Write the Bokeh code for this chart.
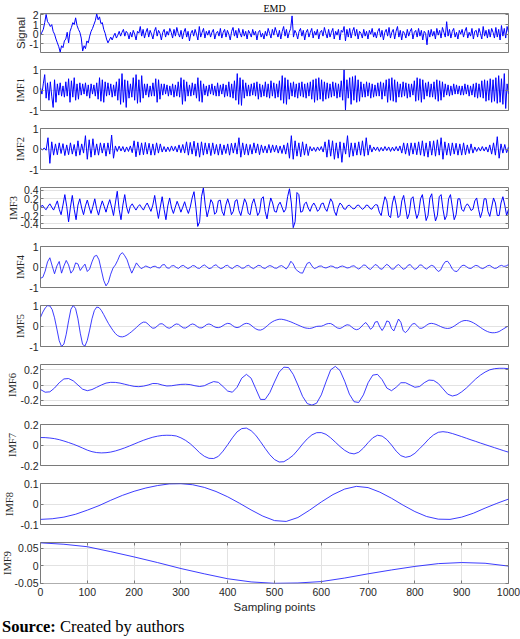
import numpy as np
from math import pi
from bokeh.plotting import figure
from bokeh.layouts import column
from bokeh.models import Range1d, FixedTicker, LinearAxis, Label, Div
from bokeh.embed import file_html
from bokeh.resources import INLINE

# ---------------- data ----------------
signal = [
    -0.1, 0.2, 0.5, 1.2, 2.05, 1.3, 1.1, 0.8, 1.0, 0.3,
    0.0, -0.5, -0.9, -1.3, -1.85, -1.2, -1.4, -0.7, -0.5, 0.2,
    -0.9, 0.3, 0.7, 1.2, 1.0, 1.7, 0.9, 0.5, 0.2, -0.4,
    -1.75, -1.2, -1.5, -0.7, -0.9, -0.2, 0.3, 0.6, 1.0, 1.4,
    2.1, 1.5, 1.8, 1.1, 1.2, 0.5, 0.1, -0.5, -0.9, -0.6,
    -0.3, -0.6, -0.2, 0.1, -0.4, -0.1, 0.3, -0.2, 0.2, 0.5,
    -0.2, 0.3, 0.1, -0.5, 0.2, -0.3, 0.4, 0.0, -0.6, 0.3,
    0.1, 0.8, -0.2, 0.5, -0.4, 0.2, 0.6, -0.3, 0.4, 0.0,
    -0.5, 0.3, 0.7, -0.2, 0.4, 0.1, -0.6, 0.2, 0.5, -0.3,
    0.3, -0.1, 0.6, 0.2, -0.4, 0.5, -0.2, 0.7, 0.1, -0.3,
    0.4, -0.5, 0.2, 0.6, -0.3, 0.3, -0.7, 0.1, 0.4, -0.2,
    0.5, 0.0, -0.6, 0.8, -0.3, 0.2, 0.6, -0.4, 0.3, -0.1,
    0.4, -0.3, 0.2, 0.5, -0.5, 0.1, 0.3, -0.2, 0.6, -0.4,
    0.2, 0.5, -0.3, 0.4, 0.0, -0.6, 0.3, 0.7, -0.2, 0.4,
    -0.4, 0.6, 0.1, -0.3, 0.5, -0.2, 0.3, -0.5, 0.4, 0.1,
    -0.3, 0.5, -0.1, 0.3, -0.6, 0.2, 0.4, -0.3, 0.1, -0.5,
    0.3, -0.2, 0.6, 0.1, -0.4, 0.5, -0.1, 0.7, 0.2, -0.3,
    0.4, -0.5, 0.3, 0.8, -0.2, 0.5, -0.4, 0.2, 0.6, 1.9,
    -0.3, 0.4, 0.1, -0.5, 0.3, 0.6, -0.2, 0.4, -0.6, 0.2,
    0.5, -0.3, 0.2, 0.6, -0.4, 0.3, -0.1, 0.5, -0.5, 0.2,
    0.4, -0.2, 0.7, 0.1, -0.4, 0.5, -0.3, 0.2, 0.6, -0.5,
    0.3, -0.1, 0.5, -0.6, 0.4, 0.2, 0.8, -0.7, 0.5, -0.3,
    0.6, -0.4, 0.3, 0.7, -0.2, 0.5, -0.5, 0.3, 0.1, -0.4,
    0.5, -0.2, 0.3, -0.5, 0.4, 0.0, 0.6, -0.3, 0.2, -0.4,
    0.3, 0.6, -0.3, 0.4, -0.6, 0.2, 0.5, -0.2, 0.7, -0.4,
    0.2, 0.5, -0.5, 0.3, 0.8, -0.3, 0.4, -0.6, 0.3, 0.1,
    -0.4, 0.5, -0.2, 0.3, 0.6, -0.5, 0.2, 0.4, -0.3, 0.6,
    -0.2, 0.4, -0.6, 0.3, 0.1, -1.1, 0.4, -0.3, 0.5, -0.2,
    0.3, -0.5, 0.6, -0.1, 0.4, -0.4, 0.7, 0.2, -0.3, 1.3,
    -0.2, 0.5, -0.4, 0.3, 0.6, -0.3, 0.2, -0.5, 0.4, 0.0,
    0.5, -0.3, 0.3, 0.7, -0.4, 0.2, -0.2, 0.6, -0.5, 0.3,
    0.4, -0.3, 0.6, 0.1, -0.5, 0.8, -0.2, 0.4, -0.4, 0.5,
    -0.3, 0.6, 0.2, -0.4, 0.7, -0.3, 0.5, -0.6, 0.9, -0.2,
    0.6, -0.4, 0.8, 0.2,
]

imf1 = [
    0.1, -0.2, 0.3, 0.75, -0.4, 0.35, -0.5, 0.4, -0.3, -0.85,
    0.5, -0.6, 0.3, -0.25, 0.35, -0.3, 0.2, -0.35, 0.4, -0.3,
    0.55, -0.6, 0.45, -0.35, 0.6, -0.5, 0.3, -0.45, 0.35, -0.25,
    0.3, -0.2, 0.35, -0.3, 0.25, -0.4, 0.3, -0.2, 0.25, -0.3,
    0.35, -0.45, 0.6, -0.55, 0.5, -0.6, 0.4, -0.3, 0.35, -0.25,
    0.3, -0.35, 0.25, -0.3, 0.4, -0.5, 0.55, -0.7, 0.8, -0.6,
    0.5, -0.85, 0.45, -0.4, 0.3, -0.35, 0.6, -0.5, 0.75, -0.65,
    0.5, -0.6, 0.7, -0.4, 0.3, -0.25, 0.3, -0.35, 0.2, -0.3,
    0.35, -0.3, 0.55, -0.6, 0.5, -0.45, 0.3, -0.25, 0.3, -0.2,
    0.25, -0.3, 0.2, -0.25, 0.3, -0.35, 0.25, -0.3, 0.4, -0.35,
    0.6, -0.7, 0.5, -0.55, 0.4, -0.3, 0.25, -0.3, 0.35, -0.25,
    0.3, -0.4, 0.6, -0.55, 0.45, -0.6, 0.3, -0.25, 0.2, -0.3,
    0.25, -0.2, 0.3, -0.25, 0.2, -0.3, 0.35, -0.3, 0.25, -0.2,
    0.3, -0.35, 0.25, -0.3, 0.4, -0.35, 0.3, -0.4, 0.45, -0.5,
    0.8, -0.7, 0.6, -0.75, 0.5, -0.4, 0.35, -0.3, 0.25, -0.3,
    0.3, -0.25, 0.35, -0.3, 0.4, -0.45, 0.3, -0.35, 0.25, -0.3,
    0.4, -0.35, 0.3, -0.4, 0.45, -0.3, 0.35, -0.4, 0.3, -0.35,
    0.45, -0.5, 0.7, -0.65, 0.6, -0.7, 0.5, -0.45, 0.35, -0.3,
    0.4, -0.35, 0.3, -0.4, 0.35, -0.3, 0.4, -0.35, 0.3, -0.4,
    0.35, -0.3, 0.4, -0.45, 0.5, -0.6, 0.55, -0.5, 0.6, -0.45,
    0.5, -0.55, 0.4, -0.45, 0.35, -0.4, 0.3, -0.35, 0.4, -0.3,
    0.35, -0.4, 0.3, -0.35, 0.45, -0.5, 0.98, -0.98, 0.5, -0.4,
    0.6, -0.7, 0.65, -0.5, 0.7, -0.6, 0.5, -0.55, 0.4, -0.35,
    0.3, -0.35, 0.4, -0.3, 0.35, -0.4, 0.3, -0.35, 0.25, -0.3,
    0.35, -0.3, 0.4, -0.45, 0.35, -0.3, 0.5, -0.6, 0.55, -0.5,
    0.6, -0.55, 0.5, -0.6, 0.4, -0.35, 0.3, -0.35, 0.4, -0.3,
    0.35, -0.4, 0.3, -0.35, 0.3, -0.25, 0.45, -0.55, 0.6, -0.5,
    0.55, -0.6, 0.5, -0.45, 0.35, -0.3, 0.4, -0.35, 0.3, -0.35,
    0.4, -0.45, 0.5, -0.55, 0.45, -0.5, 0.4, -0.35, 0.3, -0.25,
    0.25, -0.3, 0.2, -0.25, 0.3, -0.2, 0.25, -0.2, 0.2, -0.25,
    0.2, -0.25, 0.3, -0.2, 0.25, -0.3, 0.2, -0.25, 0.3, -0.35,
    0.35, -0.4, 0.3, -0.35, 0.45, -0.4, 0.5, -0.55, 0.45, -0.5,
    0.55, -0.6, 0.5, -0.55, 0.6, -0.65, 0.7, -0.6, 0.55, -0.7,
    0.8, -0.9, 0.3, -0.2,
]

imf2 = [
    0.03, -0.04, 0.05, -0.06, 0.55, -0.7, 0.35, -0.3, 0.25, -0.28,
    0.3, -0.22, 0.26, -0.32, 0.2, -0.28, 0.3, -0.25, 0.22, -0.35,
    0.4, -0.3, 0.25, -0.2, 0.65, -0.5, 0.45, -0.4, 0.5, -0.3,
    0.25, -0.3, 0.3, -0.2, 0.28, -0.35, 0.3, -0.25, 0.68, -0.45,
    0.15, -0.12, 0.14, -0.1, 0.12, -0.15, 0.1, -0.12, 0.15, -0.18,
    0.4, -0.38, 0.35, -0.3, 0.3, -0.28, 0.32, -0.25, 0.28, -0.3,
    0.25, -0.3, 0.3, -0.2, 0.25, -0.15, 0.12, -0.14, 0.1, -0.12,
    0.15, -0.1, 0.13, -0.15, 0.2, -0.18, 0.22, -0.2, 0.35, -0.3,
    0.32, -0.25, 0.38, -0.35, 0.3, -0.4, 0.35, -0.3, 0.3, -0.25,
    0.28, -0.32, 0.3, -0.25, 0.22, -0.3, 0.25, -0.28, 0.2, -0.22,
    0.25, -0.3, 0.28, -0.2, 0.3, -0.25, 0.55, -0.4, 0.3, -0.28,
    0.25, -0.3, 0.22, -0.25, 0.3, -0.2, 0.25, -0.28, 0.2, -0.18,
    0.15, -0.2, 0.22, -0.18, 0.2, -0.15, 0.18, -0.2, 0.15, -0.22,
    0.2, -0.25, 0.3, -0.45, 0.65, -0.5, 0.4, -0.35, 0.3, -0.38,
    0.35, -0.3, 0.25, -0.32, 0.12, -0.1, 0.08, -0.12, 0.1, -0.08,
    0.12, -0.15, 0.35, -0.4, 0.45, -0.35, 0.4, -0.5, 0.3, -0.45,
    0.35, -0.65, 0.3, -0.25, 0.65, -0.4, 0.3, -0.35, 0.3, -0.3,
    0.35, -0.3, 0.4, -0.35, 0.55, -0.3, 0.2, -0.15, 0.1, -0.08,
    0.1, -0.12, 0.08, -0.1, 0.12, -0.08, 0.1, -0.12, 0.09, -0.1,
    0.12, -0.1, 0.15, -0.2, 0.3, -0.25, 0.28, -0.32, 0.3, -0.25,
    0.3, -0.28, 0.35, -0.3, 0.4, -0.35, 0.3, -0.4, 0.38, -0.3,
    0.4, -0.35, 0.45, -0.3, 0.55, -0.5, 0.35, -0.3, 0.28, -0.32,
    0.3, -0.25, 0.28, -0.3, 0.25, -0.3, 0.3, -0.28, 0.2, -0.22,
    0.25, -0.2, 0.1, -0.12, 0.08, -0.1, 0.12, -0.1, 0.1, -0.15,
    0.2, -0.25, 0.3, -0.3, 0.6, -0.45, 0.25, -0.2, 0.22, -0.18,
    0.1,
]

imf3 = [
    0.0, 0.05, -0.02, -0.06, 0.02, 0.08, 0.0, -0.07,
    0.04, 0.15, -0.05, -0.18, 0.05, 0.3, 0.02, -0.35,
    0.0, 0.28, -0.05, -0.3, 0.05, 0.2, -0.02, -0.18,
    0.03, 0.17, 0.0, -0.15, 0.02, 0.2, -0.04, -0.19,
    0.0, 0.15, 0.02, -0.12, 0.05, 0.18, 0.0, -0.2,
    0.1, 0.38, -0.05, -0.3, 0.05, 0.3, 0.0, -0.15,
    0.02, 0.08, 0.0, -0.07, 0.01, 0.06, -0.01, -0.07,
    0.03, 0.1, 0.0, -0.1, 0.05, 0.28, -0.02, -0.27,
    0.0, 0.25, -0.05, -0.3, 0.03, 0.22, -0.02, -0.15,
    0.0, 0.14, 0.02, -0.12, 0.0, 0.13, -0.03, -0.15,
    0.0, 0.22, 0.37, 0.0, -0.46, -0.35, 0.25, 0.46, 0.05, -0.23,
    -0.05, 0.18, 0.1, -0.17, -0.12, 0.15, 0.17, -0.1, -0.2, 0.05,
    0.2, 0.05, -0.18, -0.1, 0.15, 0.18, -0.08, -0.2, 0.0, 0.2,
    0.1, -0.15, -0.18, 0.08, 0.2, 0.02, -0.2, -0.12, 0.2, 0.25,
    -0.1, -0.28, 0.0, 0.22, 0.1, -0.1, -0.12, 0.05, 0.12, 0.0,
    -0.12, -0.05, 0.25, 0.44, 0.1, -0.49, -0.35, 0.35, 0.3, -0.12,
    -0.1, 0.08, 0.12, -0.02, -0.1, 0.03, 0.1, 0.02, -0.1, -0.05,
    0.08, 0.1, -0.03, -0.1, 0.05, 0.2, 0.12, -0.1, -0.2, 0.0,
    0.1, 0.05, -0.04, -0.05, 0.03, 0.05, 0.0, -0.04, -0.03, 0.04,
    0.05, -0.01, -0.05, -0.02, 0.05, 0.04, -0.03, -0.05, 0.02, 0.06,
    0.05, -0.12, -0.2, 0.05, 0.25, 0.15, -0.2, -0.25, 0.1, 0.27,
    0.05, -0.25, -0.2, 0.15, 0.28, 0.0, -0.28, -0.15, 0.2, 0.25,
    -0.05, -0.27, -0.15, 0.2, 0.3, 0.0, -0.32, -0.2, 0.22, 0.32,
    -0.05, -0.33, -0.2, 0.25, 0.3, -0.05, -0.3, -0.2, 0.2, 0.3,
    0.0, -0.3, -0.18, 0.2, 0.2, -0.05, -0.1, 0.02, 0.08, 0.02,
    -0.08, -0.05, 0.15, 0.22, -0.05, -0.25, -0.1, 0.2, 0.2, -0.1,
    -0.22, 0.0, 0.22, 0.1, -0.2, -0.2, 0.1, 0.25, 0.05, -0.2,
    -0.05,
]

imf4 = [
    -0.55, -0.5, -0.2, 0.25, 0.45, 0.05, -0.33, 0.05, 0.27, -0.3,
    0.05, 0.32, 0.1, -0.3, -0.15, 0.2, 0.15, -0.17, 0.0, 0.14,
    -0.22, -0.1, 0.25, 0.52, 0.57, 0.35, -0.15, -0.65, -0.92, -0.75,
    -0.35, -0.05, 0.1, 0.33, 0.6, 0.7, 0.55, 0.35, 0.0, -0.3,
    -0.05, 0.2, 0.05, -0.08, -0.02, 0.05, 0.0, -0.05, 0.02, 0.04,
    -0.03, -0.05, 0.1, 0.12, -0.04, -0.06, 0.05, 0.07, -0.02, -0.07,
    0.04, 0.08, 0.0, -0.08, -0.02, 0.07, 0.05, -0.05, -0.07, 0.04,
    0.1, 0.02, -0.08, -0.05, 0.06, 0.11, 0.0, -0.08, -0.04, 0.06,
    0.08, -0.03, -0.08, 0.02, 0.08, 0.03, -0.06, -0.05, 0.05, 0.08,
    -0.02, -0.08, 0.0, 0.08, 0.06, -0.04, -0.07, 0.02, 0.07, 0.03,
    -0.05, -0.06, 0.03, 0.07, 0.0, -0.1, 0.05, 0.28, 0.15, -0.1,
    -0.2, -0.28, -0.3, -0.05, 0.18, 0.23, 0.05, -0.08, -0.03, 0.04,
    0.05, -0.02, -0.05, 0.0, 0.05, 0.03, -0.04, -0.05, 0.02, 0.05,
    0.01, -0.05, -0.03, 0.04, 0.06, -0.03, -0.1, -0.02, 0.1, 0.08,
    -0.06, -0.12, 0.0, 0.12, 0.07, -0.08, -0.11, 0.03, 0.13, 0.05,
    -0.1, -0.1, 0.05, 0.12, 0.02, -0.11, -0.07, 0.08, 0.12, -0.02,
    -0.12, -0.05, 0.1, 0.09, -0.04, -0.1, 0.0, 0.08, 0.05, -0.1,
    -0.22, -0.15, 0.1, 0.26, 0.28, 0.12, -0.1, -0.2, -0.22, -0.08,
    0.06, 0.09, 0.02, -0.06, -0.07, 0.02, 0.08, 0.05, -0.04, -0.08,
    -0.02, 0.06, 0.08, 0.0, -0.07, -0.05, 0.04, 0.08, 0.03, 0.05,
    0.12,
]

imf5 = [
    0.43, 0.68, 0.88, 0.99, 0.98, 0.8, 0.4, -0.15, -0.72, -1.0,
    -0.88, -0.4, 0.25, 0.82, 1.0, 0.85, 0.35, -0.35, -0.9, -0.98,
    -0.7, -0.2, 0.35, 0.75, 0.92, 0.9, 0.76, 0.56, 0.34, 0.13,
    -0.05, -0.22, -0.37, -0.47, -0.52, -0.53, -0.5, -0.44, -0.36, -0.27,
    -0.17, -0.07, 0.04, 0.13, 0.19, 0.18, 0.09, -0.03, -0.11, -0.09,
    0.01, 0.1, 0.11, 0.03, -0.07, -0.11, -0.06, 0.04, 0.1, 0.08,
    -0.01, -0.09, -0.1, -0.03, 0.06, 0.1, 0.06, -0.03, -0.09, -0.09,
    -0.02, 0.07, 0.1, 0.06, -0.02, -0.07, -0.08, -0.05, 0.02, 0.09,
    0.13, 0.11, 0.03, -0.05, -0.08, -0.05, 0.03, 0.1, 0.13, 0.11,
    0.04, -0.06, -0.14, -0.19, -0.2, -0.16, -0.08, 0.02, 0.12, 0.2,
    0.26, 0.3, 0.33, 0.33, 0.31, 0.28, 0.24, 0.2, 0.15, 0.1,
    0.05, 0.0, -0.05, -0.09, -0.11, -0.12, -0.1, -0.06, -0.02, -0.01,
    -0.01, 0.03, 0.09, 0.12, 0.12, 0.06, -0.03, -0.1, -0.12, -0.07,
    0.01, 0.06, 0.04, -0.05, -0.14, -0.18, -0.15, -0.05, 0.08, 0.17,
    0.03, -0.16, -0.065, 0.19, 0.218, -0.046, -0.22, -0.035, 0.247, 0.202,
    -0.118, -0.24, 0.05, 0.34, 0.18, -0.23, -0.32, -0.204, -0.029, 0.105,
    0.118, 0.005, -0.108, -0.109, -0.047, 0.04, 0.11, 0.13, 0.113, 0.077,
    0.027, -0.027, -0.075, -0.108, -0.12, -0.104, -0.057, 0.012, 0.091, 0.168,
    0.229, 0.264, 0.268, 0.25, 0.21, 0.155, 0.087, 0.01, -0.07, -0.147,
    -0.215, -0.27, -0.31, -0.33, -0.328, -0.31, -0.27, -0.2, -0.13, -0.06,
    0.0,
]

imf6 = [
    -0.06, -0.095, -0.09, -0.04, 0.03, 0.08, 0.085, 0.055, 0.0, -0.055,
    -0.075, -0.06, -0.03, 0.0, 0.025, 0.035, 0.034, 0.025, 0.01, -0.005,
    -0.018, -0.022, -0.015, 0.0, 0.02, 0.018, 0.0, -0.013, -0.01, 0.0,
    0.008, 0.01, 0.005, -0.01, -0.02, -0.01, 0.02, 0.045, 0.035, -0.02,
    -0.08, -0.095, -0.03, 0.09, 0.14, 0.09, -0.05, -0.19, -0.19, -0.1,
    0.04, 0.17, 0.235, 0.23, 0.14, 0.0, -0.15, -0.245, -0.265, -0.24,
    -0.13, 0.04, 0.2, 0.245, 0.19, 0.05, -0.12, -0.22, -0.23, -0.13,
    0.03, 0.13, 0.14, 0.07, -0.04, -0.075, -0.03, 0.03, 0.03, 0.0,
    -0.03, -0.02, 0.03, 0.065, 0.06, 0.02, -0.05, -0.12, -0.145, -0.13,
    -0.09, -0.04, 0.02, 0.08, 0.13, 0.17, 0.2, 0.215, 0.22, 0.22,
    0.215,
]

imf7 = [
    0.073, 0.072, 0.068, 0.062, 0.052, 0.039, 0.024, 0.008, -0.01, -0.03,
    -0.05, -0.065, -0.074, -0.077, -0.075, -0.069, -0.058, -0.044, -0.028, -0.01,
    0.009, 0.028, 0.046, 0.062, 0.076, 0.086, 0.093, 0.095, 0.094, 0.088,
    0.07, 0.045, 0.012, -0.03, -0.075, -0.11, -0.13, -0.132, -0.111, -0.06,
    0.003, 0.07, 0.128, 0.16, 0.165, 0.14, 0.095, 0.033, -0.033, -0.095,
    -0.142, -0.166, -0.163, -0.135, -0.1, -0.048, 0.009, 0.06, 0.099, 0.12,
    0.121, 0.104, 0.07, 0.028, -0.015, -0.052, -0.078, -0.087, -0.071, -0.03,
    0.023, 0.07, 0.095, 0.087, 0.053, 0.0, -0.06, -0.104, -0.12, -0.11,
    -0.081, -0.036, 0.01, 0.06, 0.099, 0.124, 0.13, 0.124, 0.112, 0.097,
    0.082, 0.066, 0.05, 0.035, 0.019, 0.004, -0.011, -0.026, -0.041, -0.056,
    -0.07,
]

imf8 = [
    -0.075, -0.072, -0.064, -0.05, -0.03, -0.008, 0.018, 0.042, 0.062, 0.078,
    0.09, 0.098, 0.099, 0.094, 0.081, 0.061, 0.035, 0.004, -0.029, -0.059,
    -0.081, -0.085, -0.066, -0.03, 0.01, 0.046, 0.073, 0.086, 0.08, 0.058,
    0.028, -0.006, -0.037, -0.061, -0.074, -0.075, -0.064, -0.045, -0.02, 0.003,
    0.024,
]

imf9 = [
    0.065, 0.061, 0.054, 0.04, 0.025, 0.009, -0.008, -0.023, -0.037, -0.046,
    -0.05, -0.049, -0.045, -0.035, -0.023, -0.012, -0.002, 0.006, 0.009, 0.007,
    -0.001,
]

names = ["Signal", "IMF1", "IMF2", "IMF3", "IMF4", "IMF5", "IMF6", "IMF7", "IMF8", "IMF9"]
series = [signal, imf1, imf2, imf3, imf4, imf5, imf6, imf7, imf8, imf9]
y_limits = [(-1.9, 2.15), (-1, 1), (-1, 1), (-0.51, 0.47), (-1, 1), (-1, 1),
            (-0.27, 0.27), (-0.2, 0.2), (-0.1, 0.1), (-0.0505, 0.066)]
y_ticks = [[-1, 0, 1, 2], [-1, 0, 1], [-1, 0, 1], [-0.4, -0.2, 0, 0.2, 0.4],
           [-1, 0, 1], [-1, 0, 1], [-0.2, 0, 0.2], [-0.2, 0, 0.2],
           [-0.1, 0, 0.1], [-0.05, 0, 0.05]]
y_tick_labels = [["-1", "0", "1", "2"], ["-1", "0", "1"], ["-1", "0", "1"],
                 ["-0.4", "-0.2", "0", "0.2", "0.4"], ["-1", "0", "1"], ["-1", "0", "1"],
                 ["-0.2", "0", "0.2"], ["-0.2", "0", "0.2"], ["-0.1", "0", "0.1"],
                 ["-0.05", "0", "0.05"]]
x_ticks = [0, 100, 200, 300, 400, 500, 600, 700, 800, 900, 1000]
x_tick_labels = ["0", "100", "200", "300", "400", "500", "600", "700", "800", "900", "1000"]
x_start, x_end = 0, 1000
title_text = "EMD"
x_title = "Sampling points"
caption_bold = "Source:"
caption_text = "Created by authors"

# ---------------- layout (page pixels) ----------------
FIG_W = 520
FRAME_L = 39
FRAME_W = 469
tops = [10, 69, 128, 187, 246, 305, 364, 424, 483, 542]
frame_h = [42, 41, 41, 41, 41, 41, 41, 41, 41, 41]
bounds = [0, 60, 119, 178, 237, 296, 355, 415, 474, 533, 619]
CAP_H = 639 - bounds[-1]
label_cx = [19, 19, 19, 12, 19, 19, 11, 11, 8, 6]   # page x of the rotated panel names

LINE = "#0000ff"
LINE_SMOOTH = "#1a1aff"
AX = "#7a7a7a"
TXT = "#262626"
GRID = "#e2e2e2"


def page_to_x(px):
    return x_start + (px - FRAME_L) / FRAME_W * (x_end - x_start)


xr = Range1d(x_start, x_end)
figs = []
for k in range(10):
    y0, y1 = y_limits[k]
    last = k == 9
    h = bounds[k + 1] - bounds[k]
    bt = tops[k] - bounds[k]
    bb = h - bt - frame_h[k]
    p = figure(width=FIG_W, height=h, x_range=xr, y_range=Range1d(y0, y1),
               x_axis_type="linear" if last else None,
               toolbar_location=None, output_backend="svg",
               min_border_left=FRAME_L, min_border_right=FIG_W - FRAME_L - FRAME_W,
               min_border_top=bt, min_border_bottom=bb)
    p.outline_line_color = AX
    p.outline_line_width = 1
    p.background_fill_color = "white"
    p.border_fill_color = "white"

    ya = p.yaxis[0]
    ya.ticker = FixedTicker(ticks=y_ticks[k])
    ya.major_label_overrides = {t: s for t, s in zip(y_ticks[k], y_tick_labels[k])}
    ya.major_tick_in = 3
    ya.major_tick_out = 0
    ya.minor_tick_line_color = None
    ya.axis_line_color = None
    ya.major_tick_line_color = AX
    ya.major_label_text_font = "Liberation Sans"
    ya.major_label_text_font_size = "10.5px"
    ya.major_label_text_color = TXT
    ya.major_label_standoff = 2
    p.ygrid.ticker = FixedTicker(ticks=y_ticks[k])
    p.ygrid.grid_line_color = GRID

    ra = LinearAxis(ticker=FixedTicker(ticks=y_ticks[k]), major_tick_in=3, major_tick_out=0,
                    minor_tick_line_color=None, axis_line_color=None,
                    major_tick_line_color=AX, major_label_text_color=None,
                    major_label_text_font_size="0px", major_label_standoff=0)
    p.add_layout(ra, "right")

    # panel name, rotated, in the left side panel (not clipped to the frame)
    p.add_layout(Label(x=page_to_x(label_cx[k]), x_units="data", y=(y0 + y1) / 2, y_units="data",
                       text=names[k], angle=pi / 2, text_align="center", text_baseline="middle",
                       text_font="Liberation Sans" if k == 0 else "Liberation Serif",
                       text_font_size="11.5px" if k == 0 else "10.5px", text_color=TXT), "left")

    if k == 0:
        p.title.text = title_text
        p.title.align = "center"
        p.title.text_font = "Liberation Serif"
        p.title.text_font_size = "10px"
        p.title.text_font_style = "normal"
        p.title.text_color = "black"
        p.title.standoff = 0
        p.title.offset = 0

    if last:
        xa = p.xaxis[0]
        xa.ticker = FixedTicker(ticks=x_ticks)
        xa.major_label_overrides = {t: s for t, s in zip(x_ticks, x_tick_labels)}
        xa.major_tick_in = 3
        xa.major_tick_out = 0
        xa.minor_tick_line_color = None
        xa.axis_line_color = None
        xa.major_tick_line_color = AX
        xa.major_label_text_font = "Liberation Sans"
        xa.major_label_text_font_size = "10.5px"
        xa.major_label_text_color = TXT
        xa.major_label_standoff = 4
        xa.axis_label = x_title
        xa.axis_label_text_font = "Liberation Sans"
        xa.axis_label_text_font_style = "normal"
        xa.axis_label_text_font_size = "11.5px"
        xa.axis_label_text_color = TXT
        xa.axis_label_standoff = 2
        p.xgrid.ticker = FixedTicker(ticks=x_ticks)
        p.xgrid.grid_line_color = GRID
        ta = LinearAxis(ticker=FixedTicker(ticks=x_ticks), major_tick_in=3, major_tick_out=0,
                        minor_tick_line_color=None, axis_line_color=None,
                        major_tick_line_color=AX, major_label_text_color=None,
                        major_label_text_font_size="0px", major_label_standoff=0)
        p.add_layout(ta, "above")

    xs = np.linspace(x_start, x_end, len(series[k]))
    if k < 4:
        p.line(xs, series[k], line_color=LINE, line_width=1)
    else:
        p.line(xs, series[k], line_color=LINE_SMOOTH, line_width=0.85)
    figs.append(p)

caption = Div(text="<b>%s</b> %s" % (caption_bold, caption_text), width=FIG_W, height=CAP_H,
              margin=0,
              styles={"font-family": "'Liberation Serif', 'Times New Roman', serif",
                      "font-size": "16.5px", "line-height": "16.5px", "color": "black",
                      "padding-left": "2px", "white-space": "nowrap"})
figs.append(caption)

layout = column(*figs, spacing=0)

open("out.html", "w").write(file_html(layout, INLINE))
